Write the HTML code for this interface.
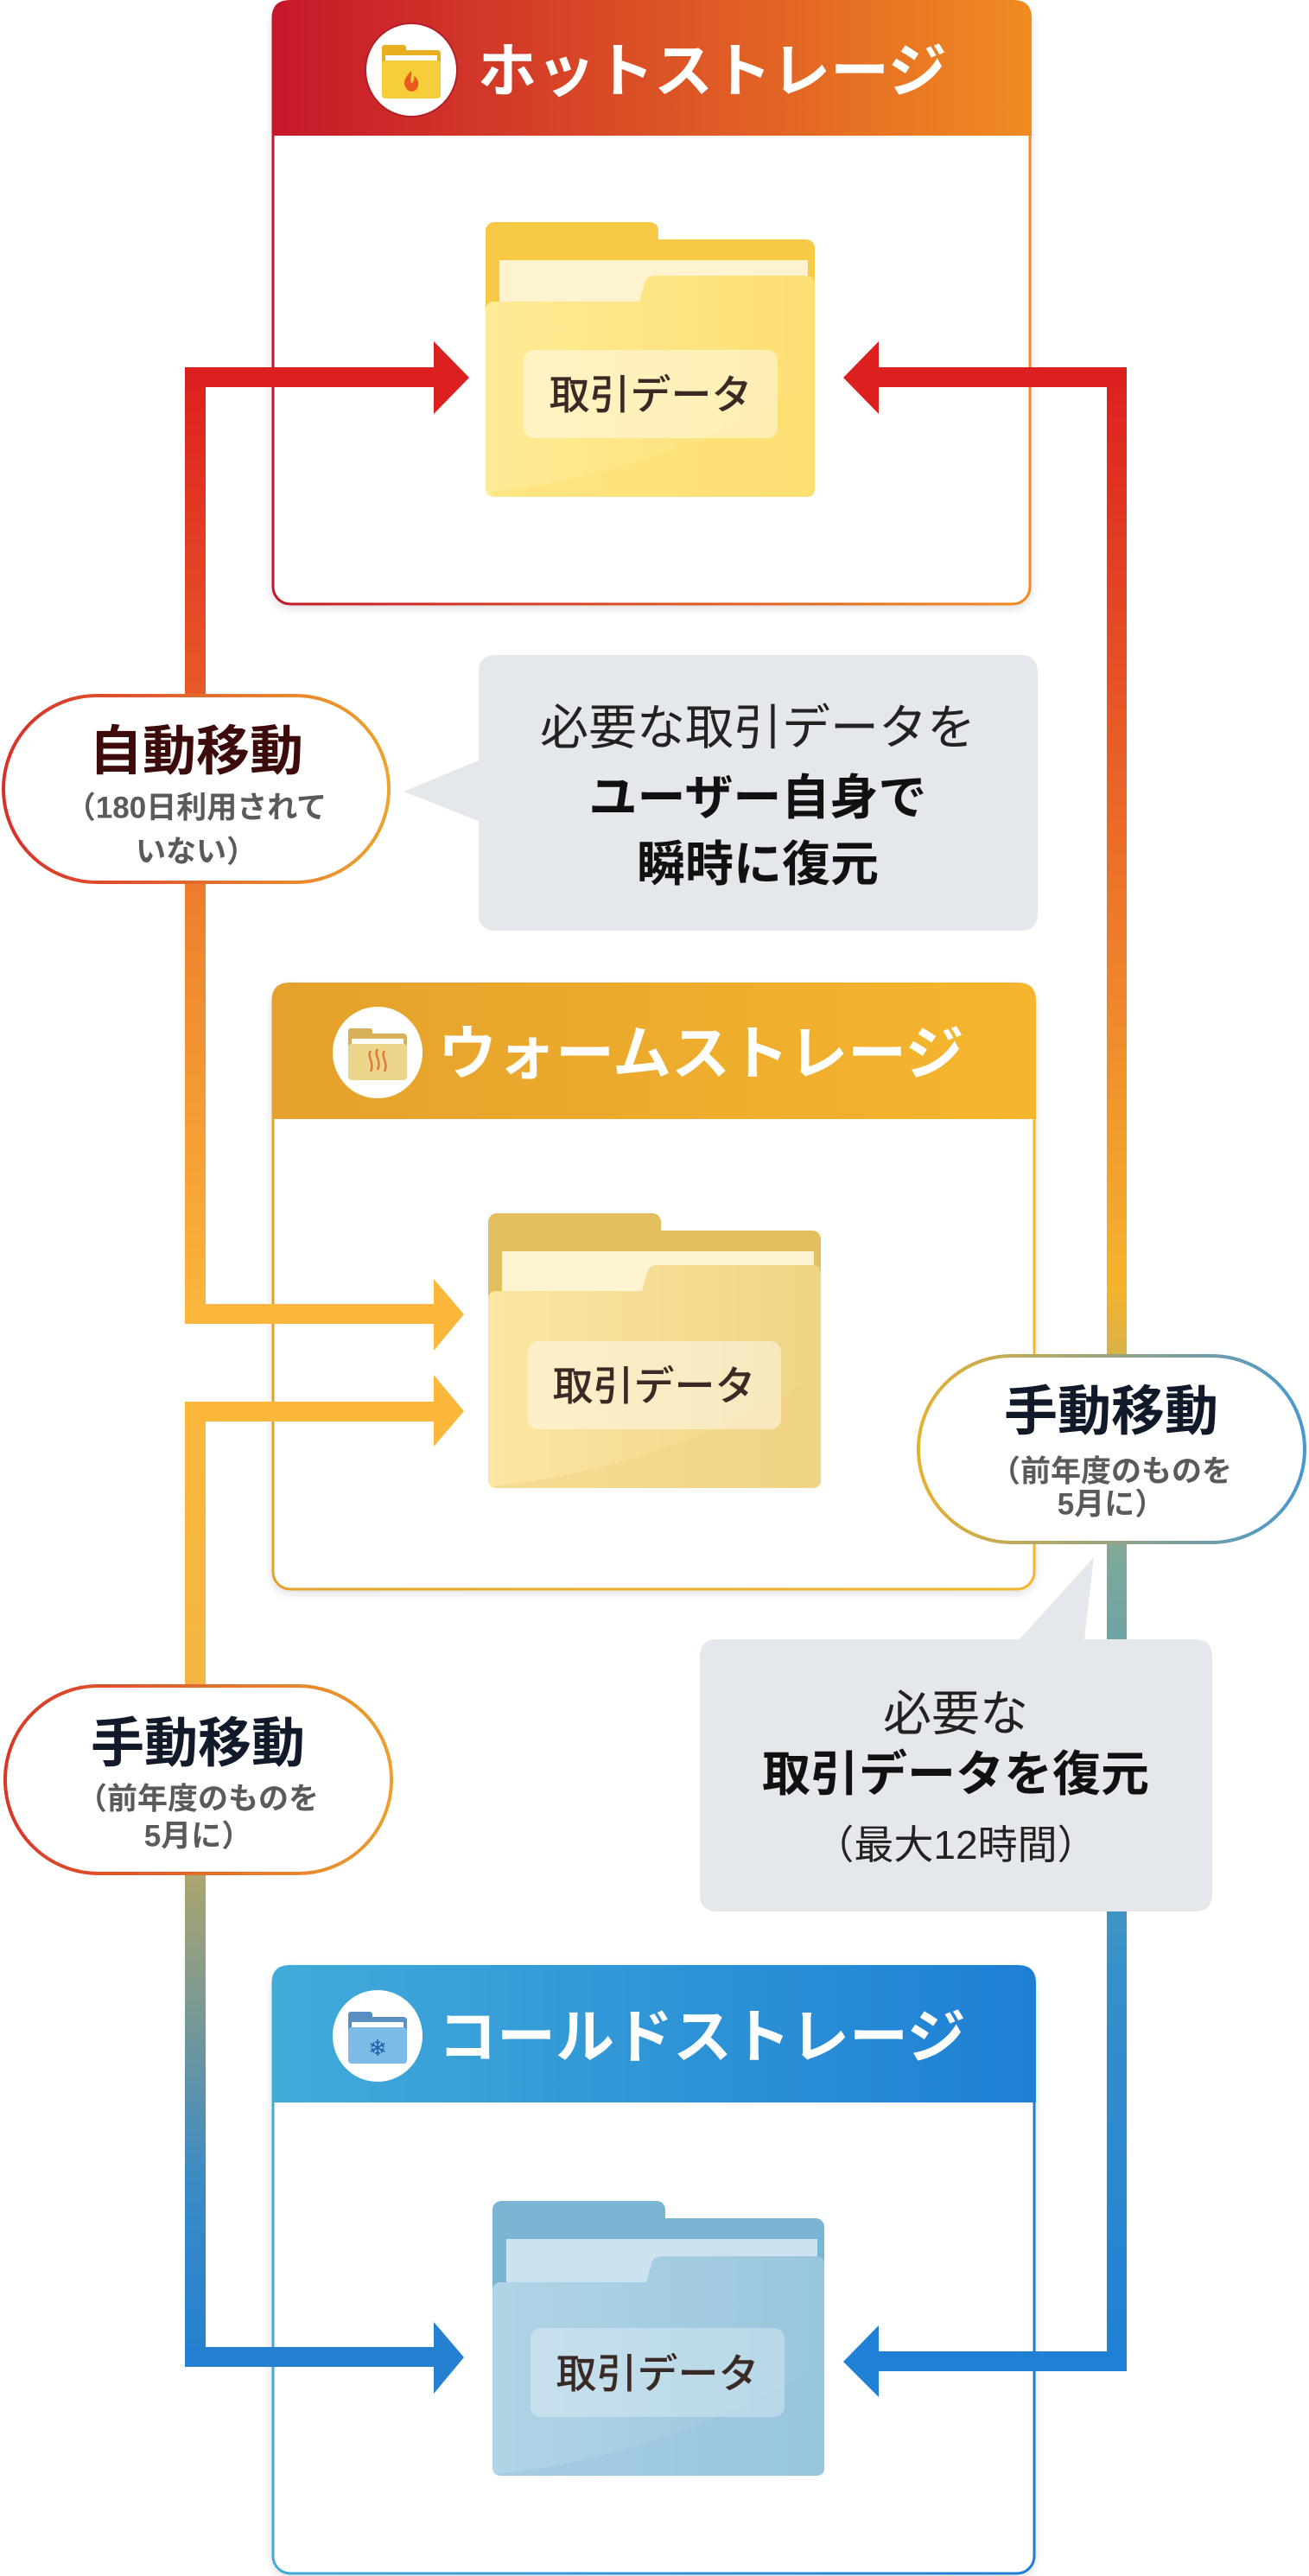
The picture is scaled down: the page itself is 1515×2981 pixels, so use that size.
<!DOCTYPE html>
<html><head><meta charset="utf-8"><style>
html,body{margin:0;padding:0;background:#fff}
svg{display:block}
text{font-family:"Liberation Sans","Noto Sans CJK JP",sans-serif}
</style></head><body>
<svg width="1515" height="2981" viewBox="0 0 1515 2981" xmlns="http://www.w3.org/2000/svg">
<defs>
<linearGradient id="gHot" x1="0" x2="1" y1="0" y2="0"><stop offset="0" stop-color="#c6172a"/><stop offset="1" stop-color="#f08b22"/></linearGradient>
<linearGradient id="gWarm" x1="0" x2="1" y1="0" y2="0"><stop offset="0" stop-color="#e4a12c"/><stop offset="1" stop-color="#f5b62e"/></linearGradient>
<linearGradient id="gCold" x1="0" x2="1" y1="0" y2="0"><stop offset="0" stop-color="#42abd9"/><stop offset="1" stop-color="#1e7fd4"/></linearGradient>
<linearGradient id="gL1" gradientUnits="userSpaceOnUse" x1="0" y1="425" x2="0" y2="1532"><stop offset="0" stop-color="#dc1f1f"/><stop offset="0.6" stop-color="#ef862e"/><stop offset="1" stop-color="#fbb73c"/></linearGradient>
<linearGradient id="gL2" gradientUnits="userSpaceOnUse" x1="0" y1="1622" x2="0" y2="2739"><stop offset="0" stop-color="#fbb73c"/><stop offset="0.3" stop-color="#f3b643"/><stop offset="0.5" stop-color="#a9a470"/><stop offset="0.8" stop-color="#3d8bc4"/><stop offset="1" stop-color="#2380d2"/></linearGradient>
<linearGradient id="gR" gradientUnits="userSpaceOnUse" x1="0" y1="425" x2="0" y2="2744"><stop offset="0" stop-color="#dc1f1f"/><stop offset="0.3" stop-color="#ef822b"/><stop offset="0.46" stop-color="#f4b42e"/><stop offset="0.6" stop-color="#7aa89d"/><stop offset="0.8" stop-color="#3591c9"/><stop offset="1" stop-color="#2080d5"/></linearGradient>
<linearGradient id="gB1" x1="0" x2="1"><stop offset="0" stop-color="#d8302a"/><stop offset="1" stop-color="#eea32e"/></linearGradient>
<linearGradient id="gB2" x1="0" x2="1"><stop offset="0" stop-color="#e6b030"/><stop offset="1" stop-color="#4898d2"/></linearGradient>
<linearGradient id="gB3" x1="0" x2="1"><stop offset="0" stop-color="#d8372a"/><stop offset="1" stop-color="#eca02e"/></linearGradient>
<linearGradient id="fHot" x1="0" x2="1"><stop offset="0" stop-color="#feeb96"/><stop offset="1" stop-color="#fddf72"/></linearGradient>
<linearGradient id="fWarm" x1="0" x2="1"><stop offset="0" stop-color="#fbe6a2"/><stop offset="1" stop-color="#efd485"/></linearGradient>
<linearGradient id="fCold" x1="0" x2="1"><stop offset="0" stop-color="#b1d4e6"/><stop offset="1" stop-color="#98c6dd"/></linearGradient>
<filter id="sh" x="-5%" y="-5%" width="110%" height="110%"><feDropShadow dx="0" dy="4" stdDeviation="5" flood-color="#000" flood-opacity="0.12"/></filter>
</defs>

<g filter="url(#sh)">
<rect x="316" y="2" width="876" height="697" rx="20" fill="#fff" stroke="url(#gHot)" stroke-width="3"/>
<rect x="316" y="1139" width="881" height="700" rx="20" fill="#fff" stroke="url(#gWarm)" stroke-width="3"/>
<rect x="316" y="2276" width="881" height="702" rx="20" fill="#fff" stroke="url(#gCold)" stroke-width="3"/>
</g>
<path d="M314.5,157 V21 q0,-21 21,-21 H1173 q21,0 21,21 V157 Z" fill="url(#gHot)"/>
<path d="M314.5,1295 V1158 q0,-21 21,-21 H1178 q21,0 21,21 V1295 Z" fill="url(#gWarm)"/>
<path d="M314.5,2433 V2295 q0,-21 21,-21 H1178 q21,0 21,21 V2433 Z" fill="url(#gCold)"/>

<ellipse cx="476" cy="81" rx="53" ry="54" fill="#fff" stroke="#b51d28" stroke-width="2"/>
<g transform="translate(442,52)"><rect x="0" y="0" width="28" height="12" rx="3" fill="#e8b020"/><rect x="0" y="6" width="68" height="54" rx="4" fill="#e8b020"/><rect x="4" y="12" width="60" height="8" fill="#fff"/><rect x="0" y="18" width="68" height="44" rx="4" fill="#f6cd3a"/><path d="M34,30 c-8,8 -10,14 -6,20 c3,5 10,5 13,0 c3,-6 0,-12 -4,-14 c1,5 -1,8 -3,8 c-2,-4 1,-9 0,-14z" fill="#ea5a1e"/></g>
<ellipse cx="437" cy="1218" rx="52" ry="53" fill="#fff"/>
<g transform="translate(403,1190)"><rect x="0" y="0" width="28" height="12" rx="3" fill="#d8b05a"/><rect x="0" y="6" width="68" height="54" rx="4" fill="#d8b05a"/><rect x="4" y="12" width="60" height="8" fill="#fff"/><rect x="0" y="18" width="68" height="42" rx="4" fill="#ecd68c"/><path d="M26,26 c-5,8 5,12 0,24 M34,24 c-5,8 5,12 0,24 M42,26 c-5,8 5,12 0,24" stroke="#e07a3a" stroke-width="2.5" fill="none"/></g>
<ellipse cx="437" cy="2356" rx="52" ry="53" fill="#fff"/>
<g transform="translate(403,2328)"><rect x="0" y="0" width="28" height="12" rx="3" fill="#5a8fc2"/><rect x="0" y="6" width="68" height="54" rx="4" fill="#5a8fc2"/><rect x="4" y="12" width="60" height="8" fill="#fff"/><rect x="0" y="18" width="68" height="42" rx="4" fill="#7cbbe8"/><text x="34" y="42" font-size="26" fill="#1d5fa8" text-anchor="middle" dominant-baseline="central">❄</text></g>

<text x="553" y="83" font-size="68" font-weight="bold" fill="#fff" dominant-baseline="central">ホットストレージ</text>
<text x="507" y="1220" font-size="68" font-weight="bold" fill="#fff" dominant-baseline="central">ウォームストレージ</text>
<text x="507" y="2358" font-size="68" font-weight="bold" fill="#fff" dominant-baseline="central">コールドストレージ</text>

<g transform="translate(562,257)">
<rect x="0" y="0" width="200" height="44" rx="10" fill="#f8c944"/><rect x="0" y="20" width="381" height="290" rx="10" fill="#f8c944"/>
<rect x="16" y="44" width="357" height="110" fill="#fdf4cf"/>
<path d="M0,102 q0,-10 10,-10 h168 l6,-22 q3,-8 12,-8 h175 q10,0 10,10 v236 q0,10 -10,10 h-361 q-10,0 -10,-10 z" fill="url(#fHot)"/>
<path d="M4,312 q200,-20 377,-130 v128 q0,8 -10,8 h-361 z" fill="#fddf72" opacity="0.5"/>
<rect x="44" y="148" width="294" height="102" rx="12" fill="#fff" opacity="0.45"/>
</g>
<text x="753" y="457" font-size="47" font-weight="500" fill="#3a2a25" text-anchor="middle" dominant-baseline="central">取引データ</text>
<g transform="translate(565,1404)">
<rect x="0" y="0" width="200" height="44" rx="10" fill="#e4bf60"/><rect x="0" y="20" width="385" height="298" rx="10" fill="#e4bf60"/>
<rect x="16" y="44" width="361" height="110" fill="#fdf5d2"/>
<path d="M0,100 q0,-10 10,-10 h168 l6,-22 q3,-8 12,-8 h179 q10,0 10,10 v238 q0,10 -10,10 h-365 q-10,0 -10,-10 z" fill="url(#fWarm)"/>
<path d="M4,316 q200,-20 381,-130 v124 q0,8 -10,8 h-365 z" fill="#efd485" opacity="0.5"/>
<rect x="46" y="148" width="293" height="102" rx="12" fill="#fff" opacity="0.45"/>
</g>
<text x="757" y="1604" font-size="47" font-weight="500" fill="#3a2a25" text-anchor="middle" dominant-baseline="central">取引データ</text>
<g transform="translate(570,2547)">
<rect x="0" y="0" width="200" height="44" rx="10" fill="#7ab5d3"/><rect x="0" y="20" width="384" height="298" rx="10" fill="#7ab5d3"/>
<rect x="16" y="44" width="360" height="110" fill="#cce3ef"/>
<path d="M0,104 q0,-10 10,-10 h168 l6,-22 q3,-8 12,-8 h178 q10,0 10,10 v234 q0,10 -10,10 h-364 q-10,0 -10,-10 z" fill="url(#fCold)"/>
<path d="M4,316 q200,-20 380,-130 v124 q0,8 -10,8 h-364 z" fill="#98c6dd" opacity="0.5"/>
<rect x="44" y="147" width="294" height="103" rx="12" fill="#fff" opacity="0.3"/>
</g>
<text x="761" y="2747" font-size="47" font-weight="500" fill="#3a2a25" text-anchor="middle" dominant-baseline="central">取引データ</text>

<rect x="214" y="425" width="24" height="1107" fill="url(#gL1)"/>
<rect x="214" y="425" width="290" height="23" fill="#dc1f1f"/>
<polygon points="502,395 543,437 502,479" fill="#dc1f1f"/>
<rect x="214" y="1509" width="290" height="23" fill="#fbb73c"/>
<polygon points="502,1480 537,1521 502,1563" fill="#fbb73c"/>
<rect x="214" y="1622" width="24" height="1117" fill="url(#gL2)"/>
<rect x="214" y="1622" width="290" height="23" fill="#fbb73c"/>
<polygon points="502,1591 537,1633 502,1674" fill="#fbb73c"/>
<rect x="214" y="2716" width="290" height="23" fill="#2680d2"/>
<polygon points="502,2687 537,2728 502,2770" fill="#2680d2"/>
<rect x="1281" y="425" width="23" height="2319" fill="url(#gR)"/>
<rect x="1015" y="425" width="289" height="23" fill="#dc1f1f"/>
<polygon points="1017,395 976,437 1017,479" fill="#dc1f1f"/>
<rect x="1015" y="2721" width="289" height="23" fill="#2080d5"/>
<polygon points="1017,2691 976,2733 1017,2774" fill="#2080d5"/>

<rect x="4" y="805" width="446" height="216" rx="108" fill="#fff" stroke="url(#gB1)" stroke-width="4"/>
<text x="227" y="870" font-size="62" font-weight="bold" fill="#3d0b0b" text-anchor="middle" dominant-baseline="central">自動移動</text>
<text x="227" y="935" font-size="35" font-weight="bold" fill="#5a5a5a" text-anchor="middle" dominant-baseline="central">（180日利用されて</text>
<text x="227" y="986" font-size="35" font-weight="bold" fill="#5a5a5a" text-anchor="middle" dominant-baseline="central">いない）</text>

<path d="M574,758 H1181 q20,0 20,20 V1057 q0,20 -20,20 H574 q-20,0 -20,-20 V950 L467,916 L554,880 V778 q0,-20 20,-20 z" fill="#e4e7ec"/>
<text x="877" y="842" font-size="56" fill="#222" text-anchor="middle" dominant-baseline="central">必要な取引データを</text>
<text x="877" y="923" font-size="56" font-weight="bold" fill="#111" text-anchor="middle" dominant-baseline="central">ユーザー自身で</text>
<text x="877" y="1000" font-size="56" font-weight="bold" fill="#111" text-anchor="middle" dominant-baseline="central">瞬時に復元</text>

<rect x="1063" y="1569" width="447" height="216" rx="108" fill="#fff" stroke="url(#gB2)" stroke-width="4"/>
<text x="1286" y="1634" font-size="62" font-weight="bold" fill="#111a2a" text-anchor="middle" dominant-baseline="central">手動移動</text>
<text x="1286" y="1703" font-size="35" font-weight="bold" fill="#5a5a5a" text-anchor="middle" dominant-baseline="central">（前年度のものを</text>
<text x="1286" y="1741" font-size="35" font-weight="bold" fill="#5a5a5a" text-anchor="middle" dominant-baseline="central">5月に）</text>

<path d="M830,1897 H1180 L1266,1802 L1255,1897 H1383 q20,0 20,20 V2192 q0,20 -20,20 H830 q-20,0 -20,-20 V1917 q0,-20 20,-20 z" fill="#e4e7ec"/>
<text x="1106" y="1983" font-size="56" fill="#222" text-anchor="middle" dominant-baseline="central">必要な</text>
<text x="1106" y="2053" font-size="56" font-weight="bold" fill="#111" text-anchor="middle" dominant-baseline="central">取引データを復元</text>
<text x="1106" y="2135" font-size="46" fill="#222" text-anchor="middle" dominant-baseline="central">（最大12時間）</text>

<rect x="6" y="1951" width="447" height="217" rx="108" fill="#fff" stroke="url(#gB3)" stroke-width="4"/>
<text x="229" y="2018" font-size="62" font-weight="bold" fill="#111a2a" text-anchor="middle" dominant-baseline="central">手動移動</text>
<text x="229" y="2082" font-size="35" font-weight="bold" fill="#5a5a5a" text-anchor="middle" dominant-baseline="central">（前年度のものを</text>
<text x="229" y="2125" font-size="35" font-weight="bold" fill="#5a5a5a" text-anchor="middle" dominant-baseline="central">5月に）</text>
</svg>
</body></html>
